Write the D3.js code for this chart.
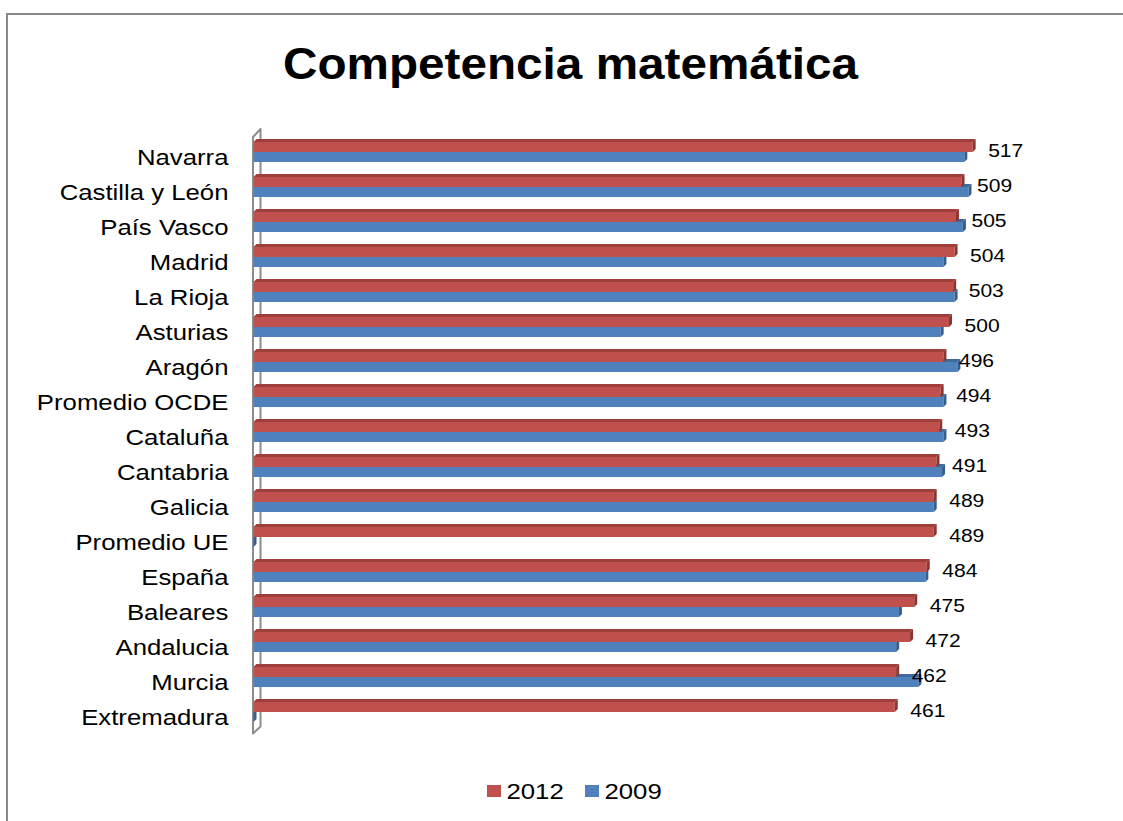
<!DOCTYPE html>
<html>
<head>
<meta charset="utf-8">
<script src="https://cdn.jsdelivr.net/npm/d3@7"></script>
<style>
  html, body { margin: 0; padding: 0; background: #ffffff; }
  svg { display: block; font-family: "Liberation Sans", Arial, sans-serif; }
</style>
</head>
<body>
<svg id="chart" width="1123" height="821"></svg>
<script>
const categories = ["Navarra","Castilla y León","País Vasco","Madrid","La Rioja","Asturias","Aragón","Promedio OCDE","Cataluña","Cantabria","Galicia","Promedio UE","España","Baleares","Andalucia","Murcia","Extremadura"];
const values2012 = [517,509,505,504,503,500,496,494,493,491,489,489,484,475,472,462,461];
const values2009 = [511,514,510,496,504,494,506,496,496,495,489,0,483,464,462,478,0];
const seriesNames = ["2012","2009"];
const titleText = "Competencia matemática";

const colors = {
  "2012": {front: "#C0504D", top: "#9E3F3C", side: "#8A3532"},
  "2009": {front: "#4F81BD", top: "#3F6A9E", side: "#365D8C"}
};
const stretch = 1.17;
const depth = 3;

const svg = d3.select("#chart");

// outer chart frame
svg.append("rect").attr("x", 7).attr("y", 14).attr("width", 1130).attr("height", 830)
  .attr("fill", "#fff").attr("stroke", "#898989").attr("stroke-width", 2);

// title
svg.append("text")
  .attr("transform", "translate(570.5,79) scale(1.084,1)")
  .attr("text-anchor", "middle")
  .attr("font-size", 44).attr("font-weight", "bold").attr("fill", "#000")
  .text(titleText);

const x = d3.scaleLinear().domain([0, 500]).range([253.5, 949]);
const y = d3.scaleBand().domain(categories).range([136, 136 + 17 * 35]);
const ys = d3.scaleBand().domain(seriesNames).range([6, 26]);

// 3D wall (side wall at value 0)
const wallTop = 136, wallBot = 733.5;
svg.append("path")
  .attr("d", `M253,${wallTop+1} L260.5,${wallTop-7} L260.5,${wallBot-7} L253,${wallBot} Z`)
  .attr("fill", "#fff").attr("stroke", "#8c8c8c").attr("stroke-width", 2).attr("stroke-linejoin", "round");

const g = svg.append("g");

function drawBar(name, cat, v) {
  const c = colors[name];
  const x0 = x(0), xe = x(v);
  const yt = y(cat) + ys(name), yb = yt + ys.bandwidth();
  const grp = g.append("g");
  if (xe > x0) {
    grp.append("path")
      .attr("d", `M${x0},${yt} L${x0+depth},${yt-depth} L${xe+depth},${yt-depth} L${xe},${yt} Z`)
      .attr("fill", c.top);
    grp.append("rect").attr("x", x0).attr("y", yt).attr("width", xe - x0).attr("height", yb - yt)
      .attr("fill", c.front);
  }
  grp.append("path")
    .attr("d", `M${xe},${yt} L${xe+depth},${yt-depth} L${xe+depth},${yb-depth} L${xe},${yb} Z`)
    .attr("fill", c.side);
}

categories.forEach((cat, i) => {
  drawBar("2009", cat, values2009[i]);
  drawBar("2012", cat, values2012[i]);
});

// category labels
svg.append("g").selectAll("text").data(categories).join("text")
  .attr("transform", d => `translate(228.5,${y(d) + 29}) scale(${stretch},1)`)
  .attr("text-anchor", "end").attr("font-size", 22).attr("fill", "#000")
  .text(d => d);

// value labels (2012)
svg.append("g").selectAll("text").data(categories).join("text")
  .attr("transform", (d, i) => `translate(${x(values2012[i]) + depth + 12.5},${y(d) + 20.7}) scale(${stretch},1)`)
  .attr("font-size", 18).attr("fill", "#000")
  .text((d, i) => values2012[i]);

// legend
const legendItems = [{name: "2012", rx: 487, tx: 506.5}, {name: "2009", rx: 585, tx: 604.5}];
const lg = svg.append("g");
legendItems.forEach(it => {
  lg.append("rect").attr("x", it.rx).attr("y", 785).attr("width", 14).attr("height", 12)
    .attr("fill", colors[it.name].front);
  lg.append("text").attr("transform", `translate(${it.tx},799.3) scale(${stretch},1)`)
    .attr("font-size", 22).attr("fill", "#000").text(it.name);
});
</script>
</body>
</html>
